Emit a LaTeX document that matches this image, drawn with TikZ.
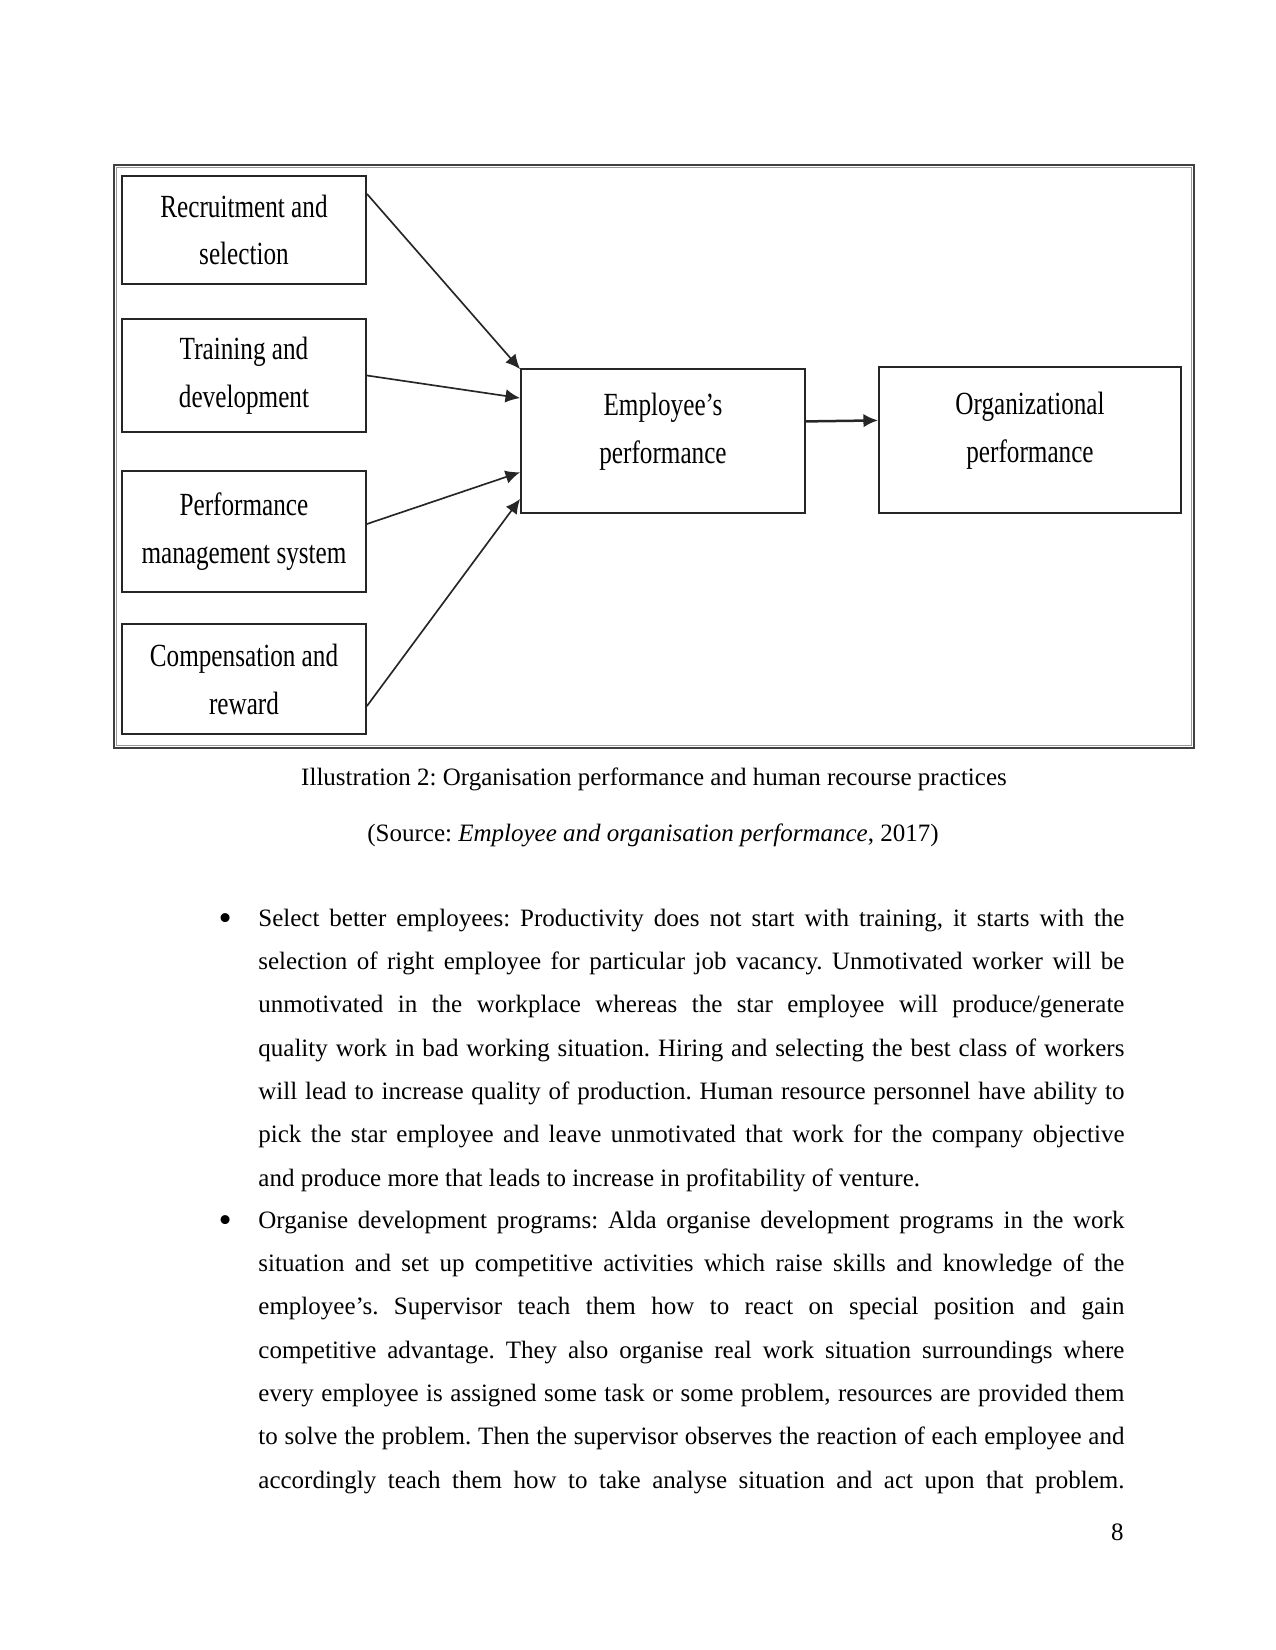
\documentclass[tikz,border=0pt]{standalone}
\usepackage{fontspec}
\setmainfont{Liberation Serif}
\newfontfamily\boxfont[FakeStretch=0.78]{Liberation Serif}
\usetikzlibrary{arrows.meta}
\frenchspacing
\tikzset{
  hrmbox/.style={draw=black!85, line width=0.9pt, align=center, inner sep=0pt,
    font=\boxfont\fontsize{15.5pt}{23pt}\selectfont},
  hrmarrow/.style={->, line width=0.8pt, draw=black!85},
  bodytext/.style={anchor=base west, inner sep=0pt, text width=415.7pt, align=justify,
    font=\fontsize{12pt}{20.8pt}\selectfont},
  plaintext/.style={anchor=base, inner sep=0pt, font=\fontsize{12pt}{14pt}\selectfont},
  bulletmark/.style={anchor=base, inner sep=0pt, font=\fontsize{18pt}{18pt}\selectfont}
}
\begin{document}
\begin{tikzpicture}[>={Latex[length=7pt,width=6.5pt]}, x=0.48pt, y=-0.48pt]
\useasboundingbox (0,0) rectangle (1275,1650);
% Rahmen um das Schaubild
\draw[black!40, line width=0.8pt] (116.5,167.5) rectangle (1191.5,745.5);
\draw[black!75, line width=1.2pt] (114,165) rectangle (1194,748);
% Praktiken links
\node[hrmbox, minimum width=117.1pt, minimum height=51.8pt] (rec) at (244,230) {Recruitment and\\selection};
\node[hrmbox, minimum width=117.1pt, minimum height=54.2pt] (trn) at (244,375.5) {Training and\\development};
\node[hrmbox, minimum width=117.1pt, minimum height=58.1pt] (prf) at (244,531.5) {Performance\\management system};
\node[hrmbox, minimum width=117.1pt, minimum height=52.8pt] (cmp) at (244,679) {Compensation and\\reward};
% Leistung
\node[hrmbox, minimum width=136.3pt, minimum height=69.1pt] (emp) at (663,441) {Employee’s\\performance\\[-11pt]};
\node[hrmbox, minimum width=145pt, minimum height=70pt] (org) at (1030,440) {Organizational\\performance\\[-11pt]};
% Pfeile
\draw[hrmarrow] ([yshift=-9pt]rec.north east) -- ([yshift=-0.5pt]emp.north west);
\draw[hrmarrow] (trn.east) -- ([yshift=-14.4pt]emp.north west);
\draw[hrmarrow] ([yshift=3.6pt]prf.east) -- ([yshift=-50pt]emp.north west);
\draw[hrmarrow] ([yshift=-13pt]cmp.east) -- ([yshift=7.2pt]emp.south west);
\draw[hrmarrow, line width=1.2pt] ([yshift=9.4pt]emp.east) -- ([yshift=9.4pt]org.west);
% Bildunterschrift
\node[plaintext] (cap) at (654,785) {Illustration 2: Organisation performance and human recourse practices};
\node[plaintext] (src) at (653,841) {(Source: \textit{Employee and organisation performance}, 2017)};
% Aufzaehlung
\node[bodytext] (sel) at (258,926) {\hyphenpenalty=10000 \tolerance=9999
Select better employees: Productivity does not start with training, it starts with the\linebreak
selection of right employee for particular job vacancy. Unmotivated worker will be\linebreak
unmotivated in the workplace whereas the star employee will produce/generate\linebreak
quality work in bad working situation. Hiring and selecting the best class of workers\linebreak
will lead to increase quality of production. Human resource personnel have ability to\linebreak
pick the star employee and leave unmotivated that work for the company objective\linebreak
and produce more that leads to increase in profitability of venture.};
\node[bodytext] (dev) at (258,1228) {\hyphenpenalty=10000 \tolerance=9999 \parfillskip=0pt
Organise development programs: Alda organise development programs in the work\linebreak
situation and set up competitive activities which raise skills and knowledge of the\linebreak
employee’s. Supervisor teach them how to react on special position and gain\linebreak
competitive advantage. They also organise real work situation surroundings where\linebreak
every employee is assigned some task or some problem, resources are provided them\linebreak
to solve the problem. Then the supervisor observes the reaction of each employee and\linebreak
accordingly teach them how to take analyse situation and act upon that problem.\par};
\node[bulletmark] (b1) at ([xshift=-15.8pt, yshift=-2pt]sel.base west) {\textbullet};
\node[bulletmark] (b2) at ([xshift=-15.8pt, yshift=-2pt]dev.base west) {\textbullet};
% Seitenzahl
\node[plaintext, anchor=base east] (pnum) at (1124,1540) {8};
\end{tikzpicture}
\end{document}
